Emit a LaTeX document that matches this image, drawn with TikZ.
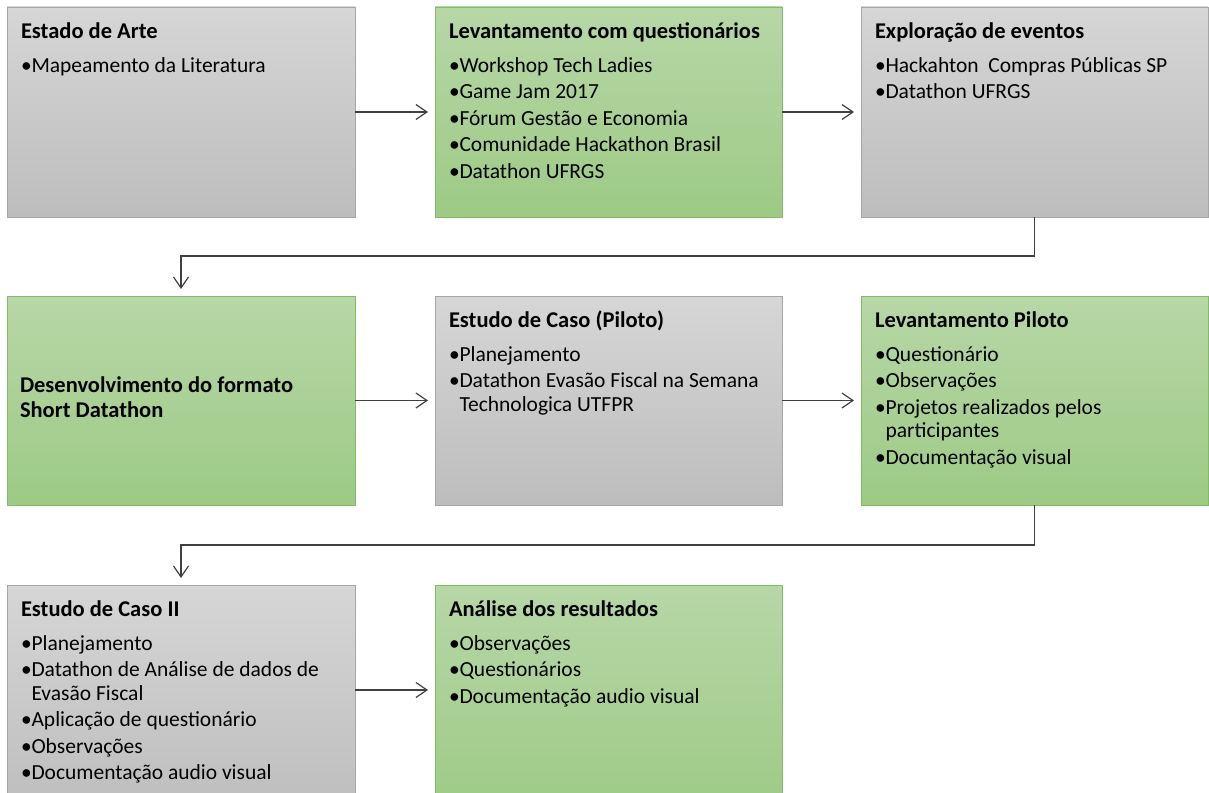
\documentclass[tikz,border=0pt]{standalone}
\usepackage{fontspec}
\setmainfont{Carlito}
\usetikzlibrary{arrows.meta}

\definecolor{grayTop}{HTML}{D6D6D6}
\definecolor{grayBot}{HTML}{BDBDBD}
\definecolor{grayEdge}{HTML}{A6A6A6}
\definecolor{greenTop}{HTML}{B7D7A7}
\definecolor{greenBot}{HTML}{9DCA85}
\definecolor{greenEdge}{HTML}{82BC62}
\definecolor{linkGray}{HTML}{404040}

% heading font (slightly larger, bold)
\newcommand{\headfont}{\fontsize{22.5pt}{23.5pt}\selectfont\bfseries}
% first line of a box: bold heading with a fixed-height strut
\newcommand{\boxhead}[1]{\rule{0pt}{19pt}{\headfont #1}\\[10.5pt]}
% bullet item and hanging continuation line
\newcommand{\bitem}[1]{\makebox[10.5pt][l]{•}#1}
\newcommand{\bcont}[1]{\hspace*{10.5pt}#1}

\begin{document}
\begin{tikzpicture}[x=1pt,y=-1pt,
  box/.style={rectangle, inner sep=0pt, outer sep=0pt, line width=0.9pt, anchor=north west},
  graybox/.style={box, draw=grayEdge, top color=grayTop, bottom color=grayBot},
  greenbox/.style={box, draw=greenEdge, top color=greenTop, bottom color=greenBot},
  txt/.style={anchor=north west, inner sep=0pt, outer sep=0pt, align=left, text=black,
    font=\fontsize{21.5pt}{23.5pt}\selectfont},
  link/.style={draw=linkGray, line width=1.2pt,
    -{Straight Barb[length=11pt,width=15pt]}, shorten >=7pt}
]
\useasboundingbox (0,0) rectangle (1209,792);
\clip (0,0) rectangle (1209,792);

% ---- row 1 ----
\node[graybox, minimum width=348pt, minimum height=210pt] (B1) at (7,7) {};
\node[greenbox, minimum width=347pt, minimum height=210pt] (B2) at (435,7) {};
\node[graybox, minimum width=347pt, minimum height=210pt] (B3) at (861,7) {};

% ---- row 2 ----
\node[greenbox, minimum width=348pt, minimum height=209pt] (B4) at (7,296) {};
\node[graybox, minimum width=347pt, minimum height=209pt] (B5) at (435,296) {};
\node[greenbox, minimum width=347pt, minimum height=209pt] (B6) at (861,296) {};

% ---- row 3 (runs past the lower edge) ----
\node[graybox, minimum width=348pt, minimum height=230pt] (B7) at (7,585) {};
\node[greenbox, minimum width=347pt, minimum height=230pt] (B8) at (435,585) {};

% ---- texts ----
\node[txt, xshift=14pt, yshift=-12pt] (T1) at (B1.north west) {%
  \boxhead{Estado de Arte}
  \bitem{Mapeamento da Literatura}};

\node[txt, xshift=14pt, yshift=-12pt] (T2) at (B2.north west) {%
  \boxhead{Levantamento com questionários}
  \bitem{Workshop Tech Ladies}\\[3pt]
  \bitem{Game Jam 2017}\\[3pt]
  \bitem{Fórum Gestão e Economia}\\[3pt]
  \bitem{Comunidade Hackathon Brasil}\\[3pt]
  \bitem{Datathon UFRGS}};

\node[txt, xshift=14pt, yshift=-12pt] (T3) at (B3.north west) {%
  \boxhead{Exploração de eventos}
  \bitem{Hackahton~ Compras Públicas SP}\\[3pt]
  \bitem{Datathon UFRGS}};

\node[txt, xshift=13pt, yshift=-77pt] (T4) at (B4.north west) {%
  \rule{0pt}{19pt}{\headfont Desenvolvimento do formato}\\[1.5pt]
  {\headfont Short Datathon}};

\node[txt, xshift=14pt, yshift=-12pt] (T5) at (B5.north west) {%
  \boxhead{Estudo de Caso (Piloto)}
  \bitem{Planejamento}\\[3pt]
  \bitem{Datathon Evasão Fiscal na Semana}\\
  \bcont{Technologica UTFPR}};

\node[txt, xshift=14pt, yshift=-12pt] (T6) at (B6.north west) {%
  \boxhead{Levantamento Piloto}
  \bitem{Questionário}\\[3pt]
  \bitem{Observações}\\[3pt]
  \bitem{Projetos realizados pelos}\\
  \bcont{participantes}\\[3pt]
  \bitem{Documentação visual}};

\node[txt, xshift=14pt, yshift=-12pt] (T7) at (B7.north west) {%
  \boxhead{Estudo de Caso II}
  \bitem{Planejamento}\\[3pt]
  \bitem{Datathon de Análise de dados de}\\
  \bcont{Evasão Fiscal}\\[3pt]
  \bitem{Aplicação de questionário}\\[3pt]
  \bitem{Observações}\\[3pt]
  \bitem{Documentação audio visual}};

\node[txt, xshift=14pt, yshift=-12pt] (T8) at (B8.north west) {%
  \boxhead{Análise dos resultados}
  \bitem{Observações}\\[3pt]
  \bitem{Questionários}\\[3pt]
  \bitem{Documentação audio visual}};

% ---- connectors ----
\draw[link] (B1.east) -- (B2.west);
\draw[link] (B2.east) -- (B3.west);
\draw[link] (B3.south) -- ++(0,39) -| (B4.north);
\draw[link] (B4.east) -- (B5.west);
\draw[link] (B5.east) -- (B6.west);
\draw[link] (B6.south) -- ++(0,40) -| (B7.north);
\draw[link] ([yshift=-105pt]B7.north east) -- ([yshift=-105pt]B8.north west);
\end{tikzpicture}
\end{document}
